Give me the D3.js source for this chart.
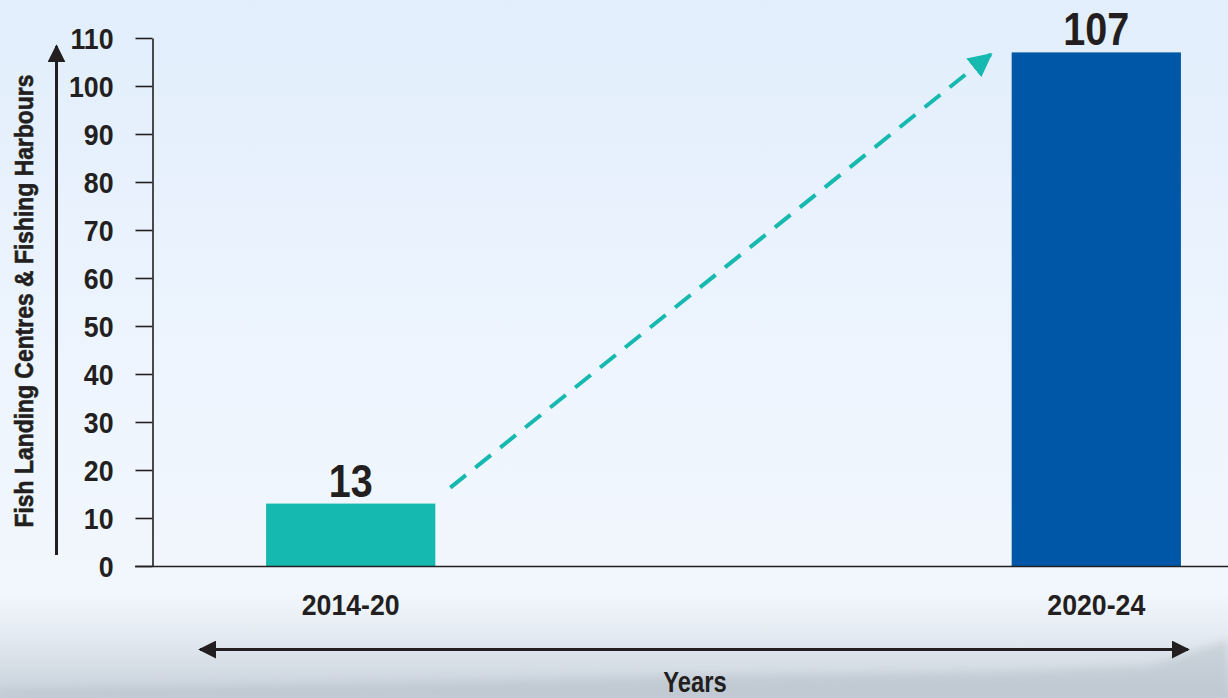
<!DOCTYPE html>
<html><head><meta charset="utf-8">
<script src="https://cdn.jsdelivr.net/npm/d3@7"></script>
<style>
html,body{margin:0;padding:0;overflow:hidden;}
svg{display:block;}
text{font-family:"Liberation Sans","Arial",sans-serif;font-weight:bold;fill:#231f20;}
</style></head>
<body><svg id="c" width="1228" height="698"></svg>
<script>
const categories = ["2014-20", "2020-24"];
const values = [13, 107];
const barColors = ["#16b9b0", "#0057a8"];
const yTicks = [0,10,20,30,40,50,60,70,80,90,100,110];
const yLabel = "Fish Landing Centres & Fishing Harbours";
const xLabel = "Years";

const W = 1228, H = 698;
const svg = d3.select("#c");
const defs = svg.append("defs");

// background
const bg = defs.append("linearGradient").attr("id","bg").attr("x1",0).attr("y1",0).attr("x2",0).attr("y2",1);
[[0,"#e2eefc"],[0.55,"#eef5fe"],[0.85,"#f2f7fd"],[0.92,"#e1e8ef"],[1,"#c6cfd9"]].forEach(s=>bg.append("stop").attr("offset",s[0]).attr("stop-color",s[1]));
svg.append("rect").attr("width",W).attr("height",H).attr("fill","url(#bg)");
defs.append("filter").attr("id","bl").append("feGaussianBlur").attr("stdDeviation",4);
svg.append("path").attr("d","M0,690 L400,683 L700,676 L1000,672 L1150,666 L1228,640 L1228,698 L0,698Z")
  .attr("fill","#b9c2cb").attr("opacity",0.55).attr("filter","url(#bl)");

const x = d3.scaleBand().domain(categories).range([152, 1295]).paddingInner(0.773).paddingOuter(0.153);
const y = d3.scaleLinear().domain([0,110]).range([566, 38]);

// bars
svg.selectAll("rect.bar").data(values).join("rect").attr("class","bar")
  .attr("x",(d,i)=>x(categories[i])).attr("width",x.bandwidth())
  .attr("y",d=>y(d)).attr("height",d=>y(0)-y(d))
  .attr("fill",(d,i)=>barColors[i]);

// value labels
svg.selectAll("text.val").data(values).join("text").attr("class","val")
  .attr("text-anchor","middle").attr("font-size",46)
  .attr("transform",(d,i)=>`translate(${x(categories[i])+x.bandwidth()/2},${y(d)-7}) scale(0.86,1)`)
  .text(d=>d);

// y axis
const yAxis = svg.append("g").attr("transform","translate(152.5,0)")
  .call(d3.axisLeft(y).tickValues(yTicks).tickSize(17).tickPadding(0).tickSizeOuter(0));
yAxis.select(".domain").attr("stroke","#231f20").attr("stroke-width",1.6);
yAxis.selectAll(".tick line").attr("stroke","#231f20").attr("stroke-width",1.6);
yAxis.selectAll(".tick text").attr("x",0).attr("dy","0.36em").attr("font-size",30).attr("fill","#231f20")
  .attr("transform","translate(-39,0) scale(0.89,1)")
  .style("font-family",'"Liberation Sans",sans-serif').style("font-weight","bold");

// baseline
svg.append("line").attr("x1",135).attr("x2",W).attr("y1",y(0)+0.5).attr("y2",y(0)+0.5)
  .attr("stroke","#231f20").attr("stroke-width",1.6);

// category labels
svg.selectAll("text.cat").data(categories).join("text").attr("class","cat")
  .attr("text-anchor","middle").attr("font-size",29)
  .attr("transform",d=>`translate(${x(d)+x.bandwidth()/2},615) scale(0.92,1)`)
  .text(d=>d);

// markers
defs.append("marker").attr("id","ak").attr("viewBox","0 0 10 10").attr("refX",9).attr("refY",5)
    .attr("markerWidth",6).attr("markerHeight",6).attr("markerUnits","strokeWidth").attr("orient","auto")
    .append("path").attr("d","M0,0 L10,5 L0,10 Z").attr("fill","#231f20");
defs.append("marker").attr("id","at").attr("viewBox","0 0 10 10").attr("refX",9).attr("refY",5)
    .attr("markerWidth",6).attr("markerHeight",6).attr("markerUnits","strokeWidth").attr("orient","auto")
    .append("path").attr("d","M0,0 L10,5 L0,10 Z").attr("fill","#16b9b0");

// y axis arrow
svg.append("line").attr("x1",56.5).attr("x2",56.5).attr("y1",555).attr("y2",46)
  .attr("stroke","#231f20").attr("stroke-width",3).attr("marker-end","url(#ak)");
svg.append("text").attr("transform","translate(33,301) rotate(-90)").attr("text-anchor","middle")
  .attr("font-size",26).attr("stroke","#231f20").attr("stroke-width",0.6)
  .attr("textLength",453).attr("lengthAdjust","spacingAndGlyphs").text(yLabel);

// x axis arrow
svg.append("line").attr("x1",600).attr("x2",1188).attr("y1",649.5).attr("y2",649.5)
  .attr("stroke","#231f20").attr("stroke-width",3).attr("marker-end","url(#ak)");
svg.append("line").attr("x1",600).attr("x2",200).attr("y1",649.5).attr("y2",649.5)
  .attr("stroke","#231f20").attr("stroke-width",3).attr("marker-end","url(#ak)");
svg.append("text").attr("text-anchor","middle").attr("font-size",29)
  .attr("transform","translate(695,692) scale(0.82,1)").text(xLabel);

// dashed trend arrow
const x0 = x(categories[0]) + x.bandwidth() + 15, y0 = y(values[0]) - 16;
const x1 = x(categories[1]) - 21, y1 = y(values[1]) + 2;
svg.append("line").attr("x1",x0).attr("y1",y0).attr("x2",x1-10).attr("y2",y1+8)
  .attr("stroke","#16b9b0").attr("stroke-width",4).attr("stroke-dasharray","20,12");
svg.append("line").attr("x1",x1-12).attr("y1",y1+9.6).attr("x2",x1).attr("y2",y1)
  .attr("stroke","#16b9b0").attr("stroke-width",4).attr("marker-end","url(#at)");
</script></body></html>
